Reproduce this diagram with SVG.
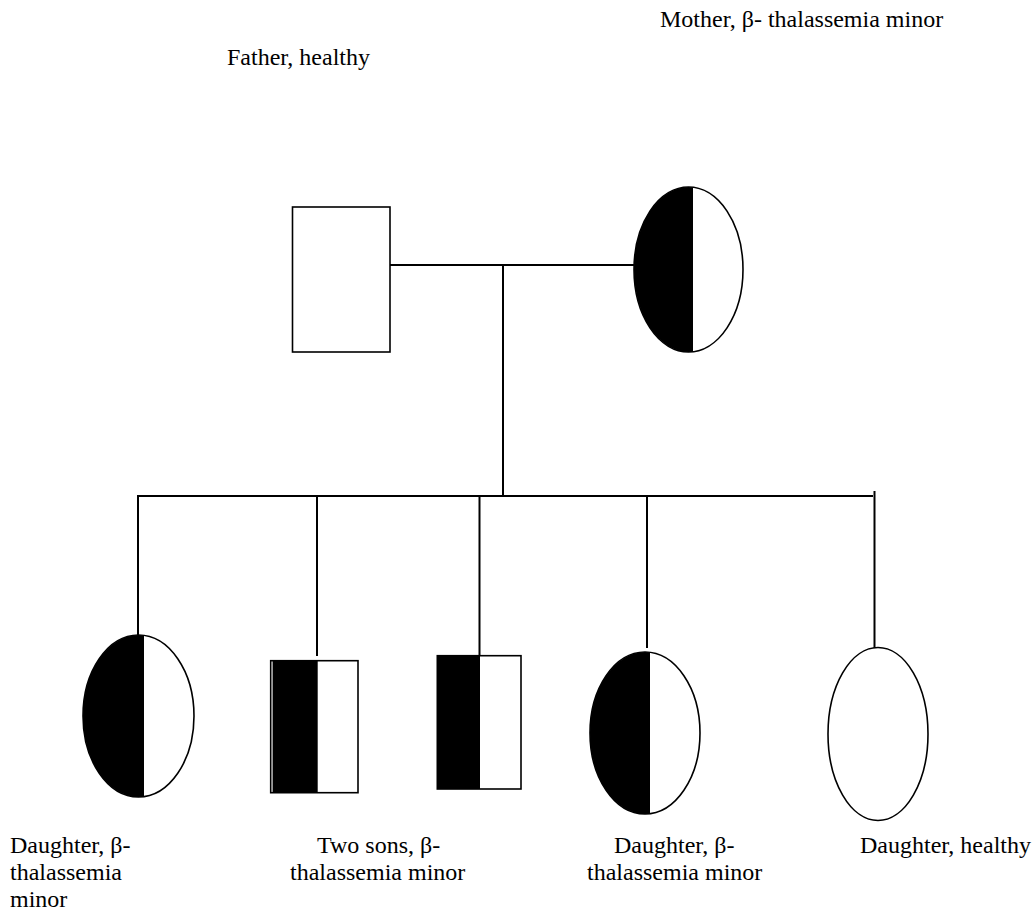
<svg xmlns="http://www.w3.org/2000/svg" width="1035" height="911" viewBox="0 0 1035 911">
  <style>
    .lbl { font-family: "Liberation Serif", "Times New Roman", serif; font-size: 24px; fill: #000; }
    .line { stroke: #000; stroke-width: 2; fill: none; }
    .outline { stroke: #000; stroke-width: 1.6; fill: none; }
    .bg { fill: #fff; }
    .half { fill: #000; }
  </style>
  <defs>
    <clipPath id="clip-mother"><ellipse cx="688.5" cy="269.5" rx="54.5" ry="82.5"/></clipPath>
    <clipPath id="clip-d1"><ellipse cx="138.5" cy="716" rx="55.5" ry="81"/></clipPath>
    <clipPath id="clip-d2"><ellipse cx="645" cy="733" rx="55" ry="81"/></clipPath>
  </defs>
  <rect width="1035" height="911" fill="#fff"/>

  <!-- connectors: marriage line, descent line, sibship line and child drops -->
  <g id="connectors">
    <line class="line" x1="390" y1="265" x2="634" y2="265"/>
    <line class="line" x1="503" y1="265" x2="503" y2="496"/>
    <line class="line" x1="137" y1="496" x2="873" y2="496"/>
    <line class="line" x1="138" y1="496" x2="138" y2="637"/>
    <line class="line" x1="317" y1="496" x2="317" y2="656"/>
    <line class="line" x1="479.5" y1="496" x2="479.5" y2="656"/>
    <line class="line" x1="647" y1="496" x2="647" y2="648"/>
    <line class="line" x1="874.5" y1="491" x2="874.5" y2="648"/>
  </g>

  <!-- father: unaffected male -->
  <g id="father">
    <rect class="bg outline" x="292.5" y="207" width="97.5" height="145"/>
  </g>

  <!-- mother: carrier female (left half filled) -->
  <g id="mother">
    <ellipse class="bg" cx="688.5" cy="269.5" rx="54.5" ry="82.5"/>
    <rect class="half" x="630" y="180" width="63" height="180" clip-path="url(#clip-mother)"/>
    <ellipse class="outline" cx="688.5" cy="269.5" rx="54.5" ry="82.5"/>
  </g>

  <!-- first daughter: carrier -->
  <g id="daughter-1">
    <ellipse class="bg" cx="138.5" cy="716" rx="55.5" ry="81"/>
    <rect class="half" x="80" y="630" width="64" height="170" clip-path="url(#clip-d1)"/>
    <ellipse class="outline" cx="138.5" cy="716" rx="55.5" ry="81"/>
  </g>

  <!-- first son: carrier -->
  <g id="son-1">
    <rect class="bg outline" x="270.7" y="660.7" width="87.3" height="132"/>
    <rect class="half" x="272.6" y="660.7" width="45.1" height="132"/>
  </g>

  <!-- second son: carrier -->
  <g id="son-2">
    <rect class="bg outline" x="437.3" y="655.7" width="83.7" height="133.3"/>
    <rect class="half" x="437.3" y="655.7" width="42.7" height="133.3"/>
  </g>

  <!-- second daughter: carrier -->
  <g id="daughter-2">
    <ellipse class="bg" cx="645" cy="733" rx="55" ry="81"/>
    <rect class="half" x="585" y="648" width="65" height="170" clip-path="url(#clip-d2)"/>
    <ellipse class="outline" cx="645" cy="733" rx="55" ry="81"/>
  </g>

  <!-- third daughter: unaffected -->
  <g id="daughter-3">
    <ellipse class="bg outline" cx="878" cy="734" rx="50" ry="86.5"/>
  </g>

  <!-- labels -->
  <g id="labels">
    <text class="lbl" x="660" y="27">Mother, β- thalassemia minor</text>
    <text class="lbl" x="227" y="65">Father, healthy</text>
    <text class="lbl" x="10" y="853">Daughter, β-</text>
    <text class="lbl" x="10" y="880">thalassemia</text>
    <text class="lbl" x="10" y="907">minor</text>
    <text class="lbl" x="317" y="853">Two sons, β-</text>
    <text class="lbl" x="290" y="880">thalassemia minor</text>
    <text class="lbl" x="614" y="853">Daughter, β-</text>
    <text class="lbl" x="587" y="880">thalassemia minor</text>
    <text class="lbl" x="860" y="853">Daughter, healthy</text>
  </g>
</svg>
